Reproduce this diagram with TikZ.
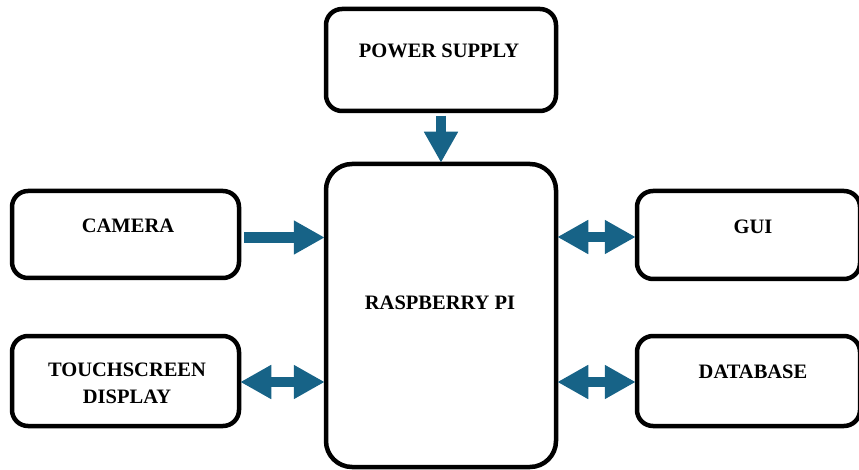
\documentclass[tikz,border=0pt]{standalone}
\usepackage{fontspec}
\setmainfont{Liberation Serif}
\usetikzlibrary{arrows.meta}

\definecolor{piblue}{RGB}{23,99,135}

\tikzset{
  box/.style={draw, line width=4.5pt, rounded corners=16pt, inner sep=0pt},
  lbl/.style={font=\fontsize{20.5}{27}\selectfont\bfseries, align=center, inner sep=0pt},
  bigarrow/.style={piblue, line width=10.5pt, -{Triangle[length=31pt,width=32pt]},
    shorten <=2.5pt, shorten >=-1pt},
  bigboth/.style={bigarrow, {Triangle[length=31pt,width=32pt]}-{Triangle[length=31pt,width=32pt]},
    shorten <=-1pt}
}

\begin{document}
\begin{tikzpicture}[x=1pt, y=-1pt]
	\useasboundingbox (0,0) rectangle (859,470);
	
	% blocks
	\node[box, minimum width=230pt, minimum height=102pt] (power) at (441,60) {};
	\node[box, minimum width=230pt, minimum height=303pt, rounded corners=26pt] (pi) at (441,315.5) {};
	\node[box, minimum width=227pt, minimum height=87pt] (camera) at (125.5,234.5) {};
	\node[box, minimum width=227pt, minimum height=90pt] (touch) at (125.5,381) {};
	\node[box, minimum width=223pt, minimum height=88pt] (gui) at (748.5,235) {};
	\node[box, minimum width=223pt, minimum height=90pt] (db) at (748.5,381) {};
	
	% labels
	\node[lbl] (tpower) at (439,50.5) {POWER SUPPLY};
	\node[lbl] (tpi) at (440,303) {RASPBERRY PI};
	\node[lbl] (tcamera) at (128,226) {CAMERA};
	\node[lbl] (ttouch) at (127,383) {TOUCHSCREEN\\DISPLAY};
	\node[lbl] (tgui) at (753,226.5) {GUI};
	\node[lbl] (tdb) at (753,372) {DATABASE};
	
	% connections
	\draw[bigarrow] (power.south) -- (pi.north);
	\draw[bigarrow] ([yshift=-3pt]camera.east) -- ([yshift=-3pt]camera.east -| pi.west);
	\draw[bigboth] ([yshift=-1pt]touch.east) -- ([yshift=-1pt]touch.east -| pi.west);
	\draw[bigboth] ([yshift=-2pt]gui.west -| pi.east) -- ([yshift=-2pt]gui.west);
	\draw[bigboth] ([yshift=-1pt]db.west -| pi.east) -- ([yshift=-1pt]db.west);
\end{tikzpicture}
\end{document}
